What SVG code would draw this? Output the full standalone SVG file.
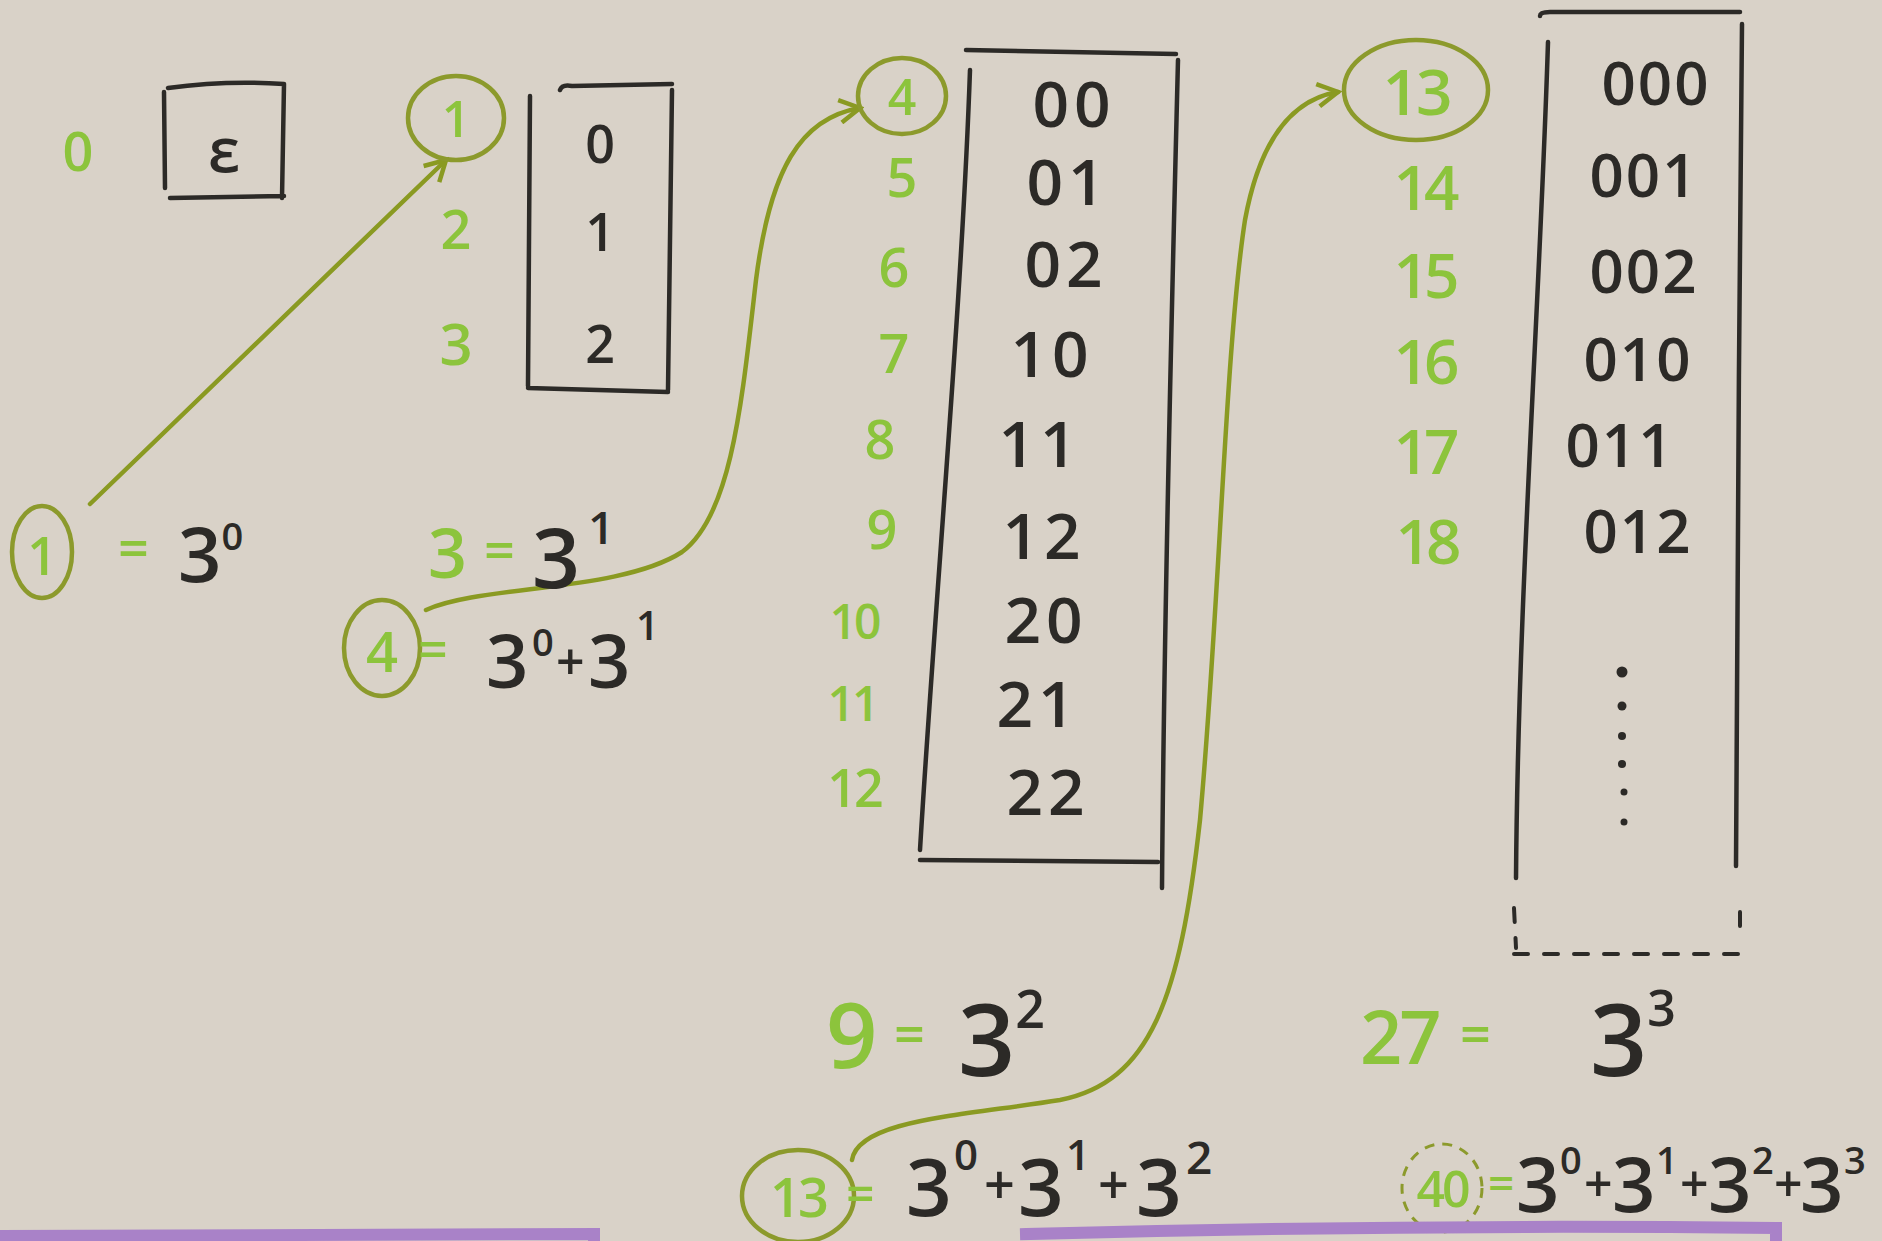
<svg xmlns="http://www.w3.org/2000/svg" width="1882" height="1241" viewBox="0 0 1882 1241">
<defs>
<style>
.ink{fill:none;stroke:#2c2a27;stroke-width:4.5;stroke-linecap:round;stroke-linejoin:round}
.dash{fill:none;stroke:#2c2a27;stroke-width:4;stroke-linecap:round;stroke-dasharray:14 16}
.ring{fill:none;stroke:#8c9a2c;stroke-width:4.5}
.ringd{fill:none;stroke:#8c9a2c;stroke-width:3;stroke-dasharray:10 8}
.conn{fill:none;stroke:#8a9a22;stroke-width:4.5;stroke-linecap:round}
text{font-family:"Open Sans",sans-serif;font-weight:600}
.g{fill:#8cc43c;text-anchor:middle;dominant-baseline:central}
.k{fill:#2c2a27;text-anchor:middle;dominant-baseline:central}
.f{fill:#2c2a27}
.fg{fill:#8cc43c}
.purple{fill:none;stroke:#a982c8;stroke-width:12;stroke-linecap:square}
</style>
<marker id="arr" viewBox="0 0 12 12" refX="10" refY="6" markerWidth="6" markerHeight="6" orient="auto" markerUnits="strokeWidth">
<path d="M1,1 L10,6 L1,11" fill="none" stroke="#8a9a22" stroke-width="2"/>
</marker>
</defs>
<rect width="1882" height="1241" fill="#d9d2c8"/>

<g id="connectors">
<path class="conn" d="M90,504 L446,160" marker-end="url(#arr)"/>
<path class="conn" d="M426,610 C480,585 620,592 682,552 C732,515 742,400 756,280 C770,170 800,118 860,108" marker-end="url(#arr)"/>
<path class="conn" d="M852,1160 C858,1120 960,1116 1060,1100 C1150,1082 1180,1000 1200,820 C1220,600 1225,350 1245,220 C1262,128 1300,98 1338,92" marker-end="url(#arr)"/>
</g>

<g id="col0">
<text class="g" x="78" y="150" font-size="54">0</text>
<path class="ink" d="M168,88 Q226,80 284,84 M164,92 L165,188 M284,84 L282,198 M170,198 L284,196"/>
<text class="k" x="224" y="148" font-size="62">ε</text>
</g>

<g id="col1">
<ellipse class="ring" cx="456" cy="118" rx="48" ry="42"/>
<text class="g" x="456" y="118" font-size="50">1</text>
<text class="g" x="456" y="228" font-size="54">2</text>
<text class="g" x="456" y="342" font-size="58">3</text>
<path class="ink" d="M560,90 Q562,84 572,86 L672,84 M530,96 L528,386 M672,90 L668,390 M528,388 L668,392"/>
<text class="k" x="600" y="142" font-size="52">0</text>
<text class="k" x="600" y="230" font-size="52">1</text>
<text class="k" x="600" y="342" font-size="52">2</text>
</g>

<g id="col2">
<ellipse class="ring" cx="902" cy="96" rx="44" ry="38"/>
<text class="g" x="902" y="96" font-size="50">4</text>
<text class="g" x="902" y="176" font-size="54">5</text>
<text class="g" x="894" y="266" font-size="54">6</text>
<text class="g" x="894" y="352" font-size="54">7</text>
<text class="g" x="880" y="438" font-size="54">8</text>
<text class="g" x="882" y="528" font-size="54">9</text>
<text class="g" x="854" y="620" font-size="48" letter-spacing="-3">10</text>
<text class="g" x="852" y="702" font-size="48" letter-spacing="-3">11</text>
<text class="g" x="854" y="786" font-size="52" letter-spacing="-3">12</text>
<path class="ink" d="M966,50 L1176,54 M970,70 C962,300 935,600 920,850 M920,860 L1158,862 M1178,60 C1172,300 1164,600 1162,888"/>
<g font-size="64" letter-spacing="5">
<text class="k" x="1074" y="102">00</text>
<text class="k" x="1068" y="180">01</text>
<text class="k" x="1066" y="262">02</text>
<text class="k" x="1052" y="352">10</text>
<text class="k" x="1040" y="442">11</text>
<text class="k" x="1044" y="534">12</text>
<text class="k" x="1046" y="618">20</text>
<text class="k" x="1038" y="702">21</text>
<text class="k" x="1048" y="790">22</text>
</g>
</g>

<g id="col3">
<ellipse class="ring" cx="1416" cy="90" rx="72" ry="50"/>
<text class="g" x="1416" y="90" font-size="64" letter-spacing="-3">13</text>
<g font-size="62" letter-spacing="-5">
<text class="g" x="1424" y="186">14</text>
<text class="g" x="1424" y="274">15</text>
<text class="g" x="1424" y="360">16</text>
<text class="g" x="1424" y="450">17</text>
<text class="g" x="1426" y="540">18</text>
</g>
<path class="ink" d="M1540,16 Q1540,12 1550,12 L1740,12 M1548,42 C1540,300 1518,600 1516,878 M1742,24 C1740,300 1736,600 1736,866"/>
<path class="dash" d="M1514,908 L1516,948 M1740,912 L1740,942 M1514,954 L1740,954"/>
<g font-size="60" letter-spacing="2">
<text class="k" x="1656" y="82">000</text>
<text class="k" x="1644" y="174">001</text>
<text class="k" x="1644" y="270">002</text>
<text class="k" x="1638" y="358">010</text>
<text class="k" x="1620" y="444">011</text>
<text class="k" x="1638" y="530">012</text>
</g>
<g fill="#2c2a27">
<circle cx="1622" cy="672" r="5.5"/>
<circle cx="1622" cy="706" r="4.5"/>
<circle cx="1622" cy="736" r="4"/>
<circle cx="1622" cy="764" r="4"/>
<circle cx="1624" cy="792" r="3.5"/>
<circle cx="1624" cy="822" r="3.5"/>
</g>
</g>

<g id="eq1">
<ellipse class="ring" cx="42" cy="552" rx="30" ry="46"/>
<text class="g" x="42" y="554" font-size="52">1</text>
<text class="fg" x="118" y="568" font-size="54">=</text>
<text class="f" x="178" y="582" font-size="76">3<tspan font-size="38" dy="-32">0</tspan></text>
</g>

<g id="eq2">
<text class="fg" x="428" y="578" font-size="68">3</text>
<text class="fg" x="484" y="570" font-size="54">=</text>
<text class="f" x="532" y="588" font-size="84">3</text>
<text class="f" x="588" y="544" font-size="46">1</text>
<ellipse class="ring" cx="382" cy="648" rx="38" ry="48"/>
<text class="g" x="382" y="650" font-size="56">4</text>
<text class="fg" x="418" y="668" font-size="52">=</text>
<text class="f" x="486" y="688" font-size="74">3</text>
<text class="f" x="532" y="656" font-size="38">0</text>
<text class="f" x="556" y="680" font-size="50">+</text>
<text class="f" x="588" y="688" font-size="74">3</text>
<text class="f" x="636" y="640" font-size="40">1</text>
</g>

<g id="eq3">
<text class="fg" x="826" y="1068" font-size="90">9</text>
<text class="fg" x="894" y="1054" font-size="54">=</text>
<text class="f" x="958" y="1076" font-size="100">3<tspan font-size="52" dy="-48">2</tspan></text>
<ellipse class="ring" cx="798" cy="1196" rx="56" ry="46"/>
<text class="g" x="798" y="1196" font-size="54" letter-spacing="-3">13</text>
<text class="fg" x="846" y="1212" font-size="50">=</text>
<text class="f" font-size="80"><tspan x="906" y="1216">3</tspan><tspan x="954" y="1170" font-size="42">0</tspan><tspan x="984" y="1204" font-size="54">+</tspan><tspan x="1018" y="1216">3</tspan><tspan x="1066" y="1170" font-size="42">1</tspan><tspan x="1098" y="1204" font-size="54">+</tspan><tspan x="1136" y="1216">3</tspan><tspan x="1186" y="1174" font-size="46">2</tspan></text>
</g>

<g id="eq4">
<text class="fg" x="1360" y="1064" font-size="74" letter-spacing="-3">27</text>
<text class="fg" x="1460" y="1054" font-size="54">=</text>
<text class="f" x="1590" y="1076" font-size="100">3<tspan font-size="50" dy="-50">3</tspan></text>
<ellipse class="ringd" cx="1442" cy="1188" rx="40" ry="44"/>
<text class="g" x="1442" y="1188" font-size="50" letter-spacing="-3">40</text>
<text class="fg" x="1488" y="1200" font-size="46">=</text>
<text class="f" font-size="76"><tspan x="1516" y="1212">3</tspan><tspan x="1560" y="1174" font-size="38">0</tspan><tspan x="1584" y="1202" font-size="50">+</tspan><tspan x="1612" y="1212">3</tspan><tspan x="1656" y="1174" font-size="38">1</tspan><tspan x="1680" y="1202" font-size="50">+</tspan><tspan x="1708" y="1212">3</tspan><tspan x="1752" y="1174" font-size="38">2</tspan><tspan x="1774" y="1202" font-size="50">+</tspan><tspan x="1800" y="1212">3</tspan><tspan x="1844" y="1174" font-size="38">3</tspan></text>
</g>

<g id="purple-bars">
<path class="purple" d="M0,1236 L594,1234 L594,1241"/>
<path class="purple" d="M1026,1234 Q1400,1224 1776,1228 L1776,1241"/>
</g>
</svg>
